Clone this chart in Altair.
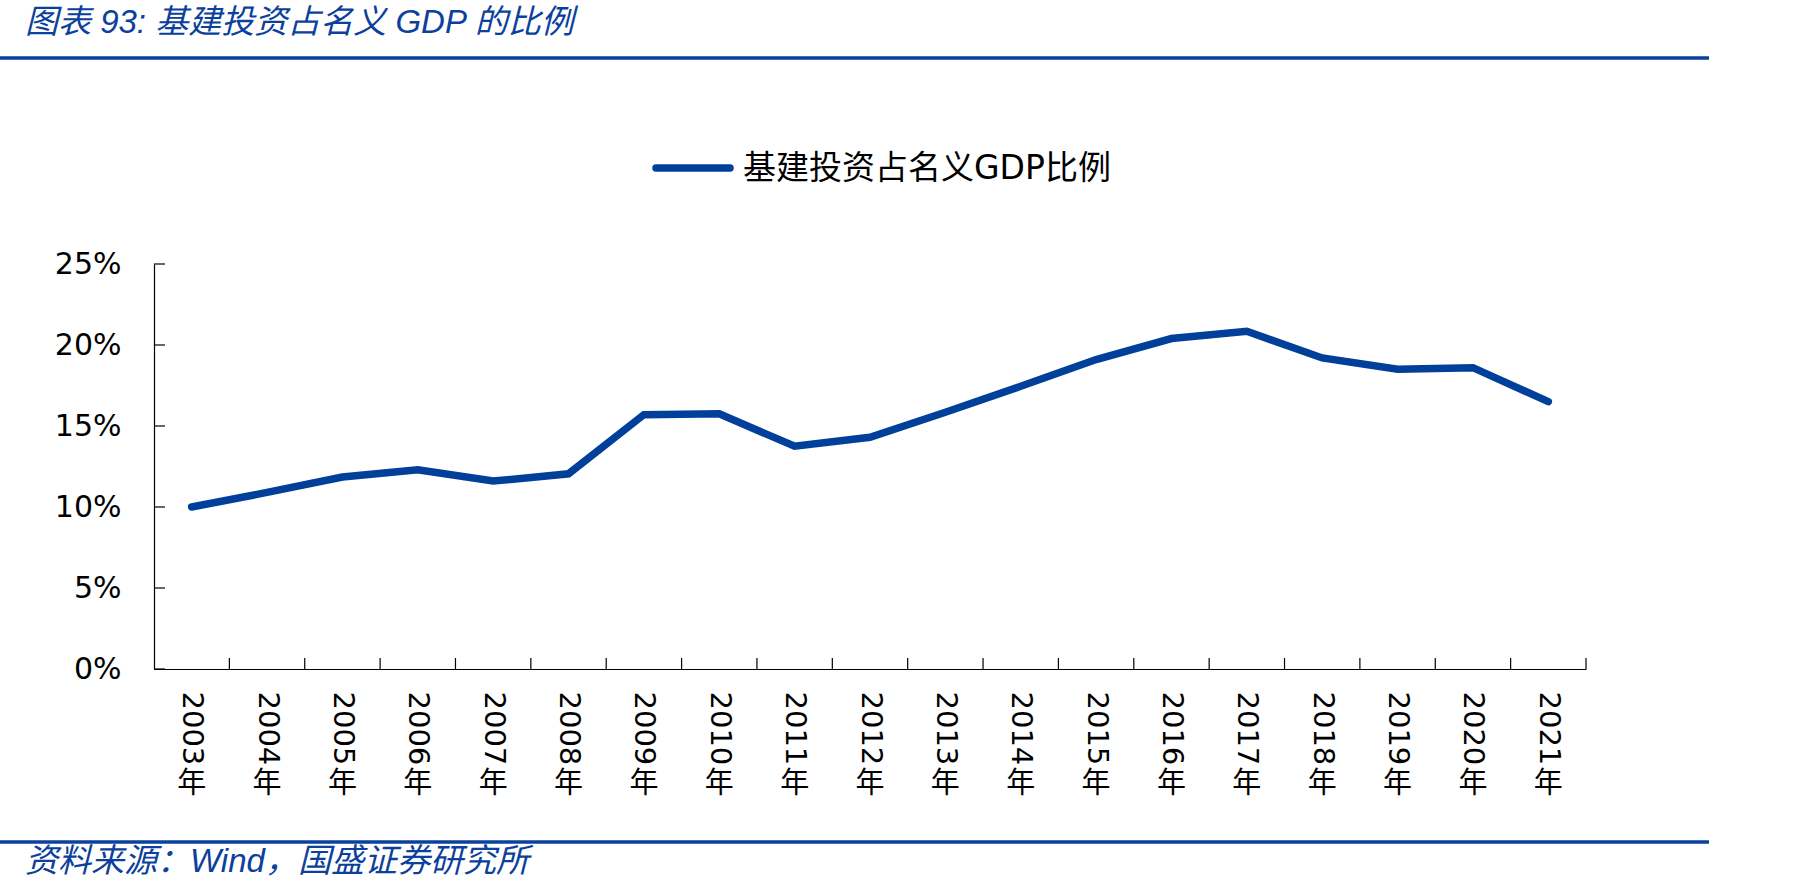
import json
import altair as alt
import pandas as pd

# ---- data ----
years = [2003, 2004, 2005, 2006, 2007, 2008, 2009, 2010, 2011, 2012,
         2013, 2014, 2015, 2016, 2017, 2018, 2019, 2020, 2021]
ratio_pct = [10.0, 10.9, 11.85, 12.3, 11.6, 12.05, 15.7, 15.75, 13.75, 14.3,
             15.85, 17.45, 19.1, 20.4, 20.85, 19.2, 18.5, 18.6, 16.5]
series_name = "基建投资占名义GDP比例"
year_suffix = "年"
y_ticks = [0, 0.05, 0.10, 0.15, 0.20, 0.25]
title_text = "图表 93:  基建投资占名义 GDP 的比例"
source_text = "资料来源：Wind，国盛证券研究所"

# ---- layout ----
W, H = 1432, 405
PAD = {"left": 154, "top": 264, "right": 1807 - 154 - 1432, "bottom": 895 - 264 - 405}
BLUE = "#0B409C"
LINE_BLUE = "#00409A"
TEXT_FONT = "Liberation Sans, Noto Sans CJK SC"
AXIS_FONT = "DejaVu Sans, Noto Sans CJK SC"
TICK_LEN = 11

n = len(years)
df = pd.DataFrame({
    "pos": [i + 0.5 for i in range(n)],
    "year": [str(y) for y in years],
    "ratio": [v / 100 for v in ratio_pct],
    "suffix": [year_suffix] * n,
})

x_scale = alt.Scale(domain=[0, n], nice=False, zero=False)
y_scale = alt.Scale(domain=[0, 0.25], nice=False)

label_lookup = json.dumps([str(y) for y in years], ensure_ascii=False)

x_axis = alt.Axis(values=[i + 0.5 for i in range(n)],
                  labelExpr=f"{label_lookup}[floor(datum.value)]",
                  ticks=False, grid=False, domain=True,
                  domainColor="black", domainWidth=1.2,
                  labelAngle=90, labelAlign="left", labelBaseline="middle",
                  labelPadding=22, labelFont=AXIS_FONT, labelFontSize=29,
                  labelColor="black", labelOverlap=False)
y_axis = alt.Axis(values=y_ticks, format=".0%", ticks=False, grid=False,
                  domain=True, domainColor="black", domainWidth=1.2,
                  labelPadding=33, labelFont=AXIS_FONT, labelFontSize=30,
                  labelColor="black")

line = alt.Chart(df).mark_line(
    color=LINE_BLUE, strokeWidth=7.5, strokeCap="round", strokeJoin="miter"
).encode(
    x=alt.X("pos:Q", scale=x_scale, title=None, axis=x_axis),
    y=alt.Y("ratio:Q", scale=y_scale, title=None, axis=y_axis),
)

# upright 年 under each rotated year label
suffix = alt.Chart(df).mark_text(
    font=AXIS_FONT, fontSize=29, color="black", baseline="middle", align="center"
).encode(
    x=alt.X("pos:Q", scale=x_scale, title=None, axis=x_axis),
    y=alt.value(H + 115),
    text="suffix:N",
)

# inward tick marks
y_tick_marks = alt.Chart(pd.DataFrame({"v": y_ticks})).mark_rule(
    color="black", strokeWidth=1.2
).encode(
    y=alt.Y("v:Q", scale=y_scale, title=None, axis=y_axis),
    x=alt.value(0), x2=alt.value(TICK_LEN),
)
x_tick_marks = alt.Chart(pd.DataFrame({"b": list(range(1, n + 1))})).mark_rule(
    color="black", strokeWidth=1.2
).encode(
    x=alt.X("b:Q", scale=x_scale, title=None, axis=x_axis),
    y=alt.value(H), y2=alt.value(H - TICK_LEN),
)

one = alt.Data(values=[{}])

# legend
legend_line = alt.Chart(one).mark_rule(
    color=LINE_BLUE, strokeWidth=7.5, strokeCap="round"
).encode(x=alt.value(502), x2=alt.value(576), y=alt.value(-96))
legend_text = alt.Chart(one).mark_text(
    text=series_name, font=AXIS_FONT, fontSize=33, color="black",
    align="left", baseline="middle"
).encode(x=alt.value(589), y=alt.value(-95))

# header and footer
title = alt.Chart(one).mark_text(
    text=title_text, font=TEXT_FONT, fontSize=33, fontStyle="italic",
    color=BLUE, align="left", baseline="middle"
).encode(x=alt.value(-129), y=alt.value(-241))
title_rule = alt.Chart(one).mark_rule(color=BLUE, strokeWidth=3.5).encode(
    x=alt.value(-154), x2=alt.value(1555), y=alt.value(-206))
footer_rule = alt.Chart(one).mark_rule(color=BLUE, strokeWidth=3.5).encode(
    x=alt.value(-154), x2=alt.value(1555), y=alt.value(578))
footer = alt.Chart(one).mark_text(
    text=source_text, font=TEXT_FONT, fontSize=33, fontStyle="italic",
    color=BLUE, align="left", baseline="middle"
).encode(x=alt.value(-129), y=alt.value(598))

chart = alt.layer(
    line, y_tick_marks, x_tick_marks, suffix,
    legend_line, legend_text, title, title_rule, footer_rule, footer,
).properties(
    width=W, height=H,
    autosize=alt.AutoSizeParams(type="none"),
    padding=PAD,
    background="white",
).configure_view(stroke=None)

chart.save("out.html", embed_options={"renderer": "svg", "actions": False})
